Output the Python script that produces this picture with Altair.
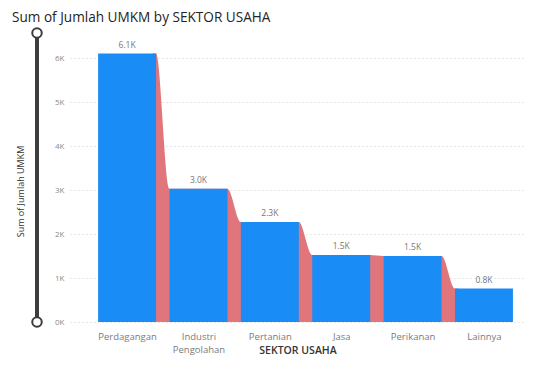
import altair as alt
import pandas as pd

categories = ["Perdagangan", "Industri Pengolahan", "Pertanian", "Jasa", "Perikanan", "Lainnya"]
values = [6100, 3030, 2270, 1520, 1500, 760]
y_ticks = [0, 1000, 2000, 3000, 4000, 5000, 6000]
chart_title = "Sum of Jumlah UMKM by SEKTOR USAHA"

FONT = "Open Sans"
BLUE = "#1A8CF5"
RIBBON = "#E0767C"
HALF = 0.406

bars = pd.DataFrame({"i": list(range(len(categories))), "cat": categories, "v": values})
bars["x0"] = bars["i"] - HALF
bars["x1"] = bars["i"] + HALF

rib_rows = []
for k in range(len(values) - 1):
    a, b = values[k], values[k + 1]
    for xo, v in [(k + HALF - 0.05, a), (k + HALF, a), (k + 1 - HALF, b), (k + 1 - HALF + 0.05, b)]:
        rib_rows.append({"g": k, "x": xo, "v": v})
ribbons = pd.DataFrame(rib_rows)

xscale = alt.Scale(domain=[-0.8, 5.575], nice=False, zero=False)
yscale = alt.Scale(domain=[0, 6500], nice=False)

label_arr = "[" + ",".join("'" + c + "'" for c in categories) + "]"

rib = alt.Chart(ribbons).mark_area(interpolate="monotone", color=RIBBON).encode(
    x=alt.X("x:Q", scale=xscale, axis=alt.Axis(
        values=list(range(len(categories))),
        labelExpr="split(" + label_arr + "[datum.value], ' ')",
        title="SEKTOR USAHA", grid=False, ticks=False, domain=False,
        labelFont=FONT, labelFontSize=9.5, labelColor="#7a7a7a", labelPadding=9,
        labelLineHeight=13,
        titleFont=FONT, titleFontSize=10.5, titleColor="#333333", titleFontWeight=600,
        titleY=28, titleBaseline="middle")),
    y=alt.Y("v:Q", scale=yscale, axis=alt.Axis(
        values=y_ticks, labelExpr="datum.value/1000 + 'K'",
        title="Sum of Jumlah UMKM", grid=True, gridDash=[1, 3], gridColor="#cfcfcf",
        ticks=False, domain=False,
        labelFont=FONT, labelFontSize=8, labelColor="#8a8a8a", labelPadding=6,
        titleFont=FONT, titleFontSize=9, titleColor="#333333", titleFontWeight="normal",
        titleX=-50, titleY=155, titleAngle=-90, titleBaseline="middle")),
    detail="g:N",
)

bar = alt.Chart(bars).mark_rect(color=BLUE).encode(
    x="x0:Q", x2="x1", y=alt.Y("v:Q"), y2=alt.datum(0)
)

lbl = alt.Chart(bars).mark_text(dy=-9, font=FONT, fontSize=8.5, color="#777777").transform_calculate(
    t="format(datum.v/1000, '.1f') + 'K'"
).encode(x="i:Q", y="v:Q", text="t:N")

slider_line = alt.Chart(bars).mark_rule(color="#3c3c3c", strokeWidth=3).encode(
    x=alt.value(-33), y=alt.value(1), y2=alt.value(282)
)
slider_dots = alt.Chart(pd.DataFrame({"p": [-3, 286]})).mark_point(
    shape="circle", size=90, filled=True, fill="white", stroke="#3c3c3c", strokeWidth=2, opacity=1
).encode(x=alt.value(-33), y=alt.Y("p:Q", scale=None))

title_txt = alt.Chart(pd.DataFrame({"t": [chart_title]})).mark_text(
    align="left", baseline="alphabetic", font=FONT, fontSize=13.6, fontWeight=500, color="#252423"
).encode(x=alt.value(-58), y=alt.value(-14), text="t:N")

chart = alt.layer(rib, bar, lbl, slider_line, slider_dots, title_txt).properties(
    width=455, height=286,
    autosize=alt.AutoSizeParams(type="none"),
    padding={"left": 62, "top": 28, "right": 0, "bottom": 35},
).configure_view(stroke=None)

chart.save("out.html", embed_options={"renderer": "svg", "actions": False})
